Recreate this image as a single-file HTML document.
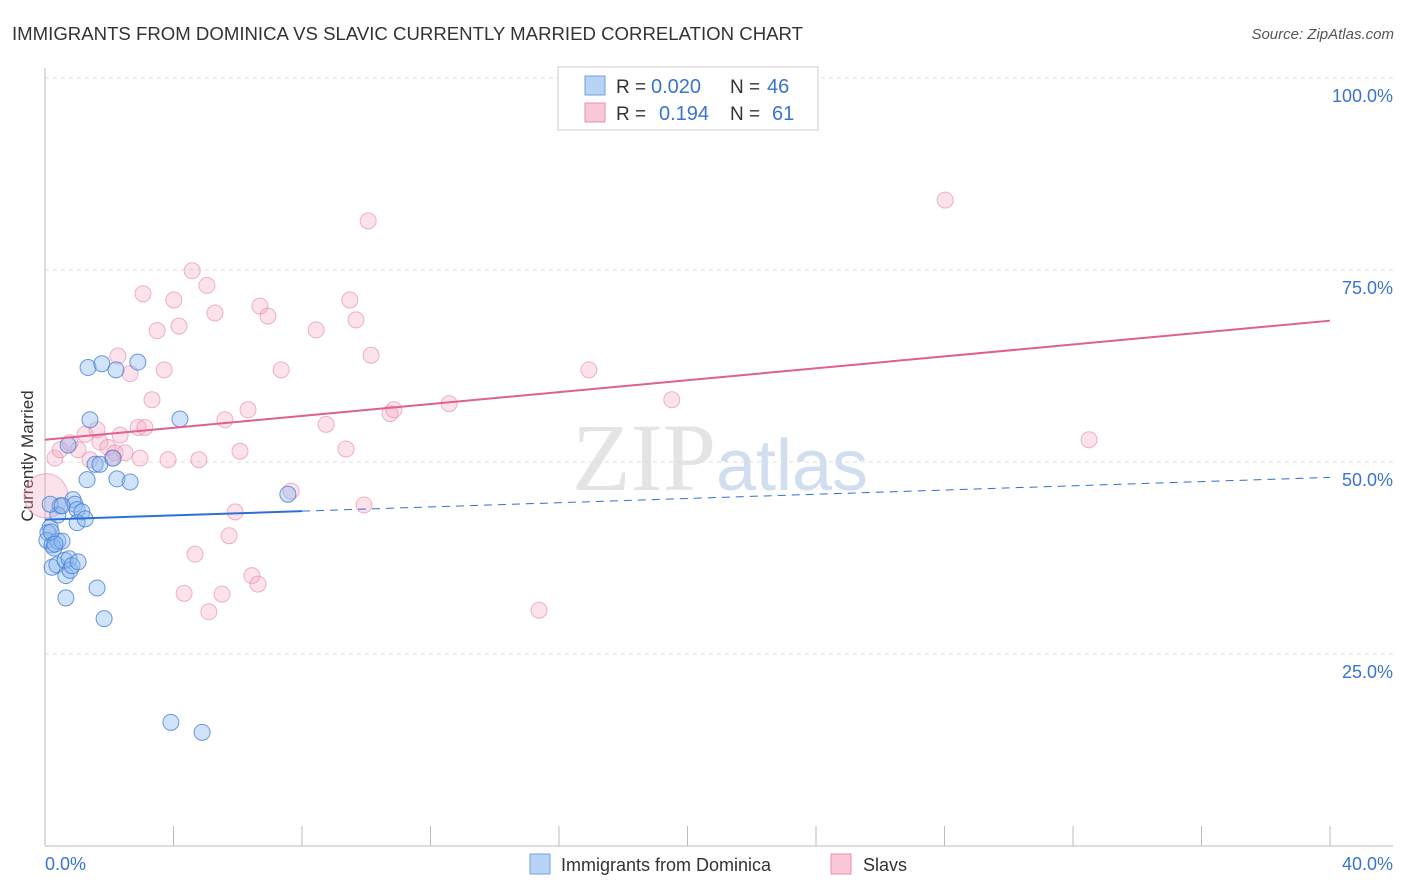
<!DOCTYPE html>
<html><head><meta charset="utf-8"><style>
body{margin:0;background:#fff;font-family:"Liberation Sans",sans-serif;}
svg{display:block}
</style></head><body>
<svg id="chart" width="1406" height="892" xmlns="http://www.w3.org/2000/svg" font-family="Liberation Sans, sans-serif">
<text x="12" y="40" font-size="18" fill="#333" textLength="791" lengthAdjust="spacingAndGlyphs">IMMIGRANTS FROM DOMINICA VS SLAVIC CURRENTLY MARRIED CORRELATION CHART</text>
<text x="1394" y="39" font-size="15" fill="#555" text-anchor="end" font-style="italic">Source: ZipAtlas.com</text>
<text x="720" y="490" font-size="96" fill="#e4e4e4" text-anchor="middle" font-family="Liberation Serif, serif">ZIP<tspan fill="#d0def0" font-family="Liberation Sans, sans-serif" font-size="72">atlas</tspan></text>
<text transform="translate(33,456) rotate(-90)" font-size="17" fill="#333" text-anchor="middle">Currently Married</text>
<g id="grid"></g><g id="marks"></g>
<g>
<rect x="558" y="67" width="260" height="63" fill="#fff" stroke="#ccc"/>
<rect x="585" y="76" width="20" height="19" fill="#b8d3f5" stroke="#6fa0e0"/>
<rect x="585" y="103" width="20" height="19" fill="#f9c8d8" stroke="#e890b0"/>
<text x="616" y="93" font-size="19" fill="#333">R =</text>
<text x="651" y="93" font-size="20" fill="#3a73d0">0.020</text>
<text x="730" y="93" font-size="19" fill="#333">N =</text>
<text x="767" y="93" font-size="20" fill="#3a73d0">46</text>
<text x="616" y="120" font-size="19" fill="#333">R =</text>
<text x="659" y="120" font-size="20" fill="#3a73d0">0.194</text>
<text x="730" y="120" font-size="19" fill="#333">N =</text>
<text x="772" y="120" font-size="20" fill="#3a73d0">61</text>
</g>
<g>
<rect x="530" y="854" width="20" height="20" fill="#b8d3f5" stroke="#6fa0e0"/>
<text x="561" y="871" font-size="18" fill="#333">Immigrants from Dominica</text>
<rect x="831" y="854" width="20" height="20" fill="#f9c8d8" stroke="#e890b0"/>
<text x="863" y="871" font-size="18" fill="#333">Slavs</text>
</g>
</svg>
<script>
const xTickLabels=["0.0%","40.0%"];
const yTicks=[25,50,75,100];
const blueX=[0.16,0.09,0.06,0.22,0.28,0.40,0.22,0.37,0.53,0.62,0.75,0.65,0.78,0.84,1.03,0.65,0.47,0.40,0.87,0.93,1.00,1.15,1.00,1.25,0.16,1.31,1.40,1.56,1.71,2.12,2.24,2.65,1.34,1.77,2.21,2.89,4.20,1.62,1.84,3.92,4.89,7.56,0.72,0.53,0.19,0.31];
const blueY=[41.5,40.8,39.8,39.2,38.8,39.7,36.3,36.6,39.7,37.2,37.4,35.2,35.9,36.5,37.0,32.3,44.3,43.1,45.1,44.5,43.8,43.5,42.1,42.6,44.5,47.7,55.5,49.7,49.7,50.5,47.8,47.4,62.3,62.8,62.0,63.0,55.6,33.6,29.6,16.1,14.8,45.8,52.2,44.3,40.9,39.3];
const pinkX=[0.03,0.31,0.47,0.78,1.03,1.25,1.62,1.71,1.96,2.18,2.49,1.40,2.09,2.27,2.65,2.90,3.11,3.33,3.05,3.49,3.71,4.01,4.17,4.58,5.04,5.29,3.83,4.79,5.60,6.07,6.32,6.69,6.94,7.35,8.44,8.75,9.49,9.68,10.15,10.06,9.37,10.74,10.86,12.58,16.93,19.51,28.02,32.50,4.67,4.33,5.73,5.92,5.51,5.10,6.44,6.63,7.66,9.93,15.38,2.96,2.34];
const pinkY=[45.6,50.5,51.6,52.5,51.6,53.6,54.2,52.6,51.9,51.2,51.2,50.3,50.5,63.8,61.5,54.5,54.5,58.1,71.9,67.1,62.0,71.1,67.7,74.9,73.0,69.4,50.3,50.3,55.5,51.4,56.8,70.3,69.0,62.0,67.2,54.9,71.1,68.5,63.9,81.4,51.7,56.3,56.8,57.6,62.0,58.1,84.1,52.9,38.0,32.9,40.4,43.5,32.8,30.5,35.2,34.1,46.2,44.4,30.7,50.5,53.5];
const blueLine=[42.5,48.0],pinkLine=[52.9,68.4];
const X0=45,X1=1330,Y0=846,PXPER=7.68;
const xs=v=>X0+v/40*(X1-X0), ys=v=>Y0-v*PXPER;
const NS="http://www.w3.org/2000/svg";
function mk(p,t,a){const e=document.createElementNS(NS,t);for(const k in a)e.setAttribute(k,a[k]);p.appendChild(e);return e;}
const g=document.getElementById('grid'),m=document.getElementById('marks');
let el=mk(g,'line',{x1:X0,y1:68,x2:X0,y2:Y0,stroke:'#bbb'});

el=mk(g,'line',{x1:X0,y1:Y0,x2:1393,y2:Y0,stroke:'#bbb'});

for(let i=1;i<=10;i++){const e=mk(g,'line',{x1:X0+i*128.5,y1:Y0-20,x2:X0+i*128.5,y2:Y0,stroke:'#bbb'});
}
yTicks.forEach(t=>{let e=mk(g,'line',{x1:X0,y1:ys(t),x2:1393,y2:ys(t),stroke:'#ddd','stroke-dasharray':'4,4'});

e=mk(g,'text',{x:1393,y:ys(t)+24,'font-size':18,fill:'#3a73d0','text-anchor':'end'});e.textContent=t.toFixed(1)+'%';
});
el=mk(g,'text',{x:45,y:870,'font-size':18,fill:'#3a73d0'});el.textContent=xTickLabels[0];

el=mk(g,'text',{x:1393,y:870,'font-size':18,fill:'#3a73d0','text-anchor':'end'});el.textContent=xTickLabels[1];

pinkX.forEach((x,i)=>{const e=mk(m,'circle',{cx:xs(x),cy:ys(pinkY[i]),r:i==0?22:8,fill:'rgba(244,160,190,0.3)',stroke:'rgba(230,130,165,0.6)','stroke-width':1});
});
blueX.forEach((x,i)=>{const e=mk(m,'circle',{cx:xs(x),cy:ys(blueY[i]),r:8,fill:'rgba(140,185,240,0.4)',stroke:'rgba(60,120,210,0.75)','stroke-width':1});
});
const bAt=x=>blueLine[0]+(blueLine[1]-blueLine[0])*x/40;
el=mk(m,'line',{x1:xs(0),y1:ys(bAt(0)),x2:xs(8),y2:ys(bAt(8)),stroke:'#2e6fd6','stroke-width':2});

el=mk(m,'line',{x1:xs(8),y1:ys(bAt(8)),x2:xs(40),y2:ys(bAt(40)),stroke:'#2e6fd6','stroke-width':1,'stroke-dasharray':'8,6'});

el=mk(m,'line',{x1:xs(0),y1:ys(pinkLine[0]),x2:xs(40),y2:ys(pinkLine[1]),stroke:'#e0608e','stroke-width':2});

</script>
</body></html>
